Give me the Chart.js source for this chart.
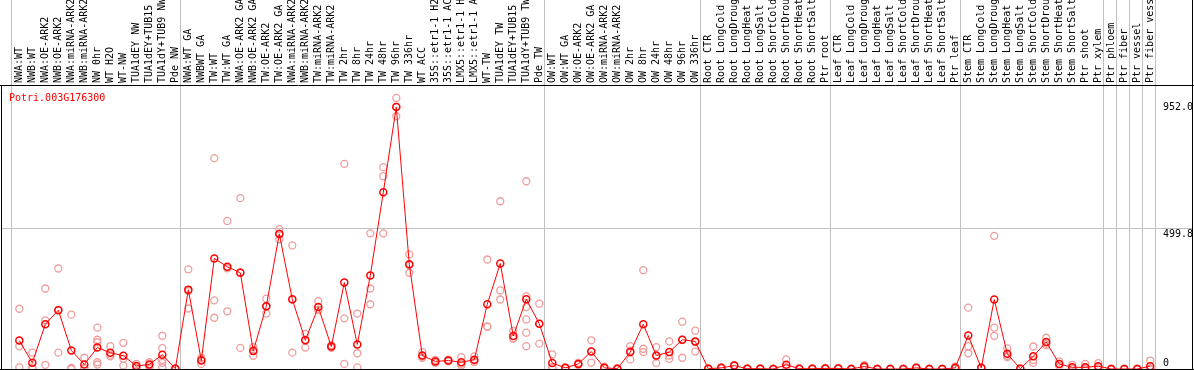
<!DOCTYPE html>
<html>
<head>
<meta charset="utf-8">
<script src="https://cdn.jsdelivr.net/npm/chart.js@4/dist/chart.umd.min.js"></script>
<style>
  body { margin: 0; background: #fff; }
  #wrap { width: 1194px; height: 370px; }
</style>
</head>
<body>
<div id="wrap"><canvas id="myChart" width="1194" height="370"></canvas></div>
<script>
// sample names, as shown (cut to 14 chars like the original)
var labels = [
  'NWA:WT', 'NWB:WT', 'NWA:OE-ARK2', 'NWB:OE-ARK2', 'NWA:miRNA-ARK2', 'NWB:miRNA-ARK2',
  'NW 0hr', 'WT H2O', 'WT-NW', 'TUA1dEY NW', 'TUA1dEY+TUB15', 'TUA1dY+TUB9 NW', 'Pde NW',
  'NWA:WT GA', 'NWBWT GA', 'TW:WT', 'TW:WT GA', 'NWA:OE-ARK2 GA', 'NWB:OE-ARK2 GA',
  'TW:OE-ARK2', 'TW:OE-ARK2 GA', 'NWA:miRNA-ARK2', 'NWB:miRNA-ARK2', 'TW:miRNA-ARK2',
  'TW:miRNA-ARK2', 'TW 2hr', 'TW 8hr', 'TW 24hr', 'TW 48hr', 'TW 96hr', 'TW 336hr',
  'WT ACC', '35S::etr1-1 H2', '35S::etr1-1 AC', 'LMX5::etr1-1 H', 'LMX5::etr1-1 A',
  'WT-TW', 'TUA1dEY TW', 'TUA1dEY+TUB15', 'TUA1dY+TUB9 TW', 'Pde TW',
  'OW:WT', 'OW:WT GA', 'OW:OE-ARK2', 'OW:OE-ARK2 GA', 'OW:miRNA-ARK2', 'OW:miRNA-ARK2',
  'OW 2hr', 'OW 8hr', 'OW 24hr', 'OW 48hr', 'OW 96hr', 'OW 336hr',
  'Root CTR', 'Root LongCold', 'Root LongDroug', 'Root LongHeat', 'Root LongSalt',
  'Root ShortCold', 'Root ShortDrou', 'Root ShortHeat', 'Root ShortSalt', 'Ptr root',
  'Leaf CTR', 'Leaf LongCold', 'Leaf LongDroug', 'Leaf LongHeat', 'Leaf LongSalt',
  'Leaf ShortCold', 'Leaf ShortDrou', 'Leaf ShortHeat', 'Leaf ShortSalt', 'Ptr leaf',
  'Stem CTR', 'Stem LongCold', 'Stem LongDroug', 'Stem LongHeat', 'Stem LongSalt',
  'Stem ShortCold', 'Stem ShortDrou', 'Stem ShortHeat', 'Stem ShortSalt', 'Ptr shoot',
  'Ptr xylem', 'Ptr phloem', 'Ptr fiber', 'Ptr vessel', 'Ptr fiber vess'
];

// mean expression per sample (red line)
var meanValues = [
  101, 22, 159, 209, 66, 16, 76, 58, 47, 11, 16, 51, 1,
  282, 30, 393, 363, 342, 64, 223, 480, 248, 102, 220, 80, 307, 87, 332, 628, 931,
  372, 48, 27, 30, 24, 33, 230, 375, 117, 248, 161,
  21, 4, 18, 62, 4, 1, 60, 159, 48, 60, 104, 98,
  1, 4, 12, 1, 1, 0, 15, 1, 1, 2,
  2, 0, 9, 0, 0, 0, 4, 0, 0, 4,
  119, 4, 247, 54, 1, 45, 96, 18, 6, 6, 10,
  0, 0, 0, 10
];

// single replicates (pink circles)
var replicateValues = [
  [214, 81, 6], [58, 6, 1], [286, 173, 15], [357, 58, 210], [193, 4, 0], [40, 4, 1],
  [147, 104, 95, 24, 16], [81, 51, 45], [93, 12, 36], [18, 6, 4], [24, 12, 6],
  [118, 74, 33, 6, 22], [2, 0, 1],
  [354, 215, 277], [39, 18, 33], [749, 244, 182], [526, 205, 358], [607, 75, 344],
  [78, 47, 66], [250, 197, 222], [497, 461, 481], [439, 58, 247], [125, 76, 104],
  [241, 209, 211], [85, 80, 75], [729, 180, 18], [197, 56, 6], [482, 286, 230],
  [717, 685, 482], [963, 898, 932], [407, 342, 369], [60, 40, 44], [32, 27, 22],
  [33, 30, 27], [42, 18, 12], [45, 30, 25], [389, 150, 151], [596, 279, 247],
  [135, 108, 108], [667, 258, 220, 176, 129, 81], [232, 90, 161],
  [52, 6, 5], [4, 2, 6], [22, 18, 15], [102, 23, 62], [8, 2, 2], [2, 0, 1],
  [81, 34, 65], [351, 72, 60], [78, 45, 21], [98, 48, 36], [168, 40, 104], [136, 62, 96],
  [1, 0, 2], [6, 3, 3], [14, 12, 11], [1, 0, 2], [1, 0, 2], [0, 0, 1], [34, 6, 5],
  [1, 0, 2], [1, 0, 2], [4, 1, 1],
  [4, 1, 1], [0, 0, 1], [14, 8, 5], [0, 0, 1], [0, 0, 1], [0, 0, 1], [6, 3, 3],
  [0, 0, 1], [0, 0, 1], [8, 3, 1],
  [218, 81, 56], [6, 3, 3], [473, 147, 118], [73, 42, 47], [1, 0, 2], [80, 22, 32],
  [111, 90, 85], [27, 18, 11], [15, 2, 1], [18, 0, 1], [21, 5, 4],
  [0, 0, 1], [0, 0, 1], [0, 0, 1], [30, 0, 0]
];

var yTickValues = [0, 499.8, 952.0];
// group separators sit after these sample indexes
var groupEnds = [-1, 12, 40, 52, 62, 72, 83, 84, 85, 86, 87];
var geneName = 'Potri.003G176300';

var MONO = '"DejaVu Sans Mono", "Liberation Mono", monospace';

var meanPoints = meanValues.map(function (v, i) { return {x: i, y: v}; });
var repPoints = [];
replicateValues.forEach(function (list, i) {
  list.forEach(function (v) { repPoints.push({x: i, y: v}); });
});

function noPadding(axis) {
  axis.paddingLeft = 0; axis.paddingRight = 0;
  axis.paddingTop = 0; axis.paddingBottom = 0;
}

// gray separators, frame and gene name
var framePlugin = {
  id: 'frame',
  beforeDatasetsDraw: function (chart) {
    var c = chart.ctx, xs = chart.scales.x, step = xs.getPixelForValue(1) - xs.getPixelForValue(0);
    c.save();
    c.strokeStyle = '#c0c0c0';
    c.lineWidth = 1;
    groupEnds.forEach(function (i) {
      var px = Math.round(xs.getPixelForValue(i) + step * 0.36) + 0.5;
      c.beginPath(); c.moveTo(px, 0); c.lineTo(px, 370); c.stroke();
    });
    c.restore();
  },
  afterDraw: function (chart) {
    var c = chart.ctx, a = chart.chartArea;
    c.save();
    c.strokeStyle = '#000';
    c.lineWidth = 1;
    c.beginPath();
    c.moveTo(0, a.top + 0.5); c.lineTo(1194, a.top + 0.5);
    c.moveTo(0, 369.5); c.lineTo(1194, 369.5);
    c.moveTo(1.5, a.top); c.lineTo(1.5, 370);
    c.moveTo(1192.5, 0); c.lineTo(1192.5, 370);
    c.stroke();
    c.fillStyle = '#ff0000';
    c.font = '10px ' + MONO;
    c.textBaseline = 'alphabetic';
    c.fillText(geneName, 9, 101);
    c.restore();
  }
};

var ctx = document.getElementById('myChart').getContext('2d');
var chart = new Chart(ctx, {
    type: 'line',
    data: {
        datasets: [{
            label: 'mean',
            data: meanPoints,
            borderColor: '#ff0000',
            borderWidth: 1,
            pointRadius: 3.5,
            pointBorderWidth: 1.5,
            pointBorderColor: '#ff0000',
            pointBackgroundColor: 'rgba(0,0,0,0)',
            tension: 0
        },
        {
            label: 'replicates',
            data: repPoints,
            showLine: false,
            pointRadius: 3.5,
            pointBorderWidth: 1.3,
            pointBorderColor: '#ef9c9c',
            pointBackgroundColor: 'rgba(0,0,0,0)'
        }]
    },
    options: {
        responsive: false,
        animation: false,
        events: [],
        layout: { autoPadding: false, padding: { left: 1, right: 1, top: 0, bottom: 1 } },
        plugins: { legend: { display: false }, tooltip: { enabled: false } },
        scales: {
            x: {
                type: 'linear',
                position: 'top',
                min: -1.41,
                max: 90.29,
                afterBuildTicks: function (axis) {
                    axis.ticks = labels.map(function (_, i) { return {value: i}; });
                },
                afterFit: function (axis) { axis.height = 85; noPadding(axis); },
                grid: { display: false, drawTicks: false },
                border: { display: false },
                ticks: {
                    autoSkip: false,
                    minRotation: 90,
                    maxRotation: 90,
                    padding: 2,
                    labelOffset: 12,
                    color: '#000',
                    font: { family: MONO, size: 10 },
                    callback: function (v) { return labels[v] || ''; }
                }
            },
            y: {
                type: 'linear',
                position: 'right',
                min: 0,
                max: 1009,
                afterBuildTicks: function (axis) {
                    axis.ticks = yTickValues.map(function (v) { return {value: v}; });
                },
                afterFit: function (axis) { axis.width = 0; noPadding(axis); },
                grid: {
                    drawTicks: false,
                    color: function (c) { return c.tick && c.tick.value === 499.8 ? '#c0c0c0' : 'rgba(0,0,0,0)'; }
                },
                border: { display: false },
                ticks: {
                    mirror: true,
                    crossAlign: 'far',
                    padding: 0,
                    color: '#000',
                    font: { family: MONO, size: 10 },
                    callback: function (v) {
                        return v === 0 ? ['0', ''] : ['', v.toFixed(1)];
                    }
                }
            }
        }
    },
    plugins: [framePlugin]
});
</script>
</body>
</html>
